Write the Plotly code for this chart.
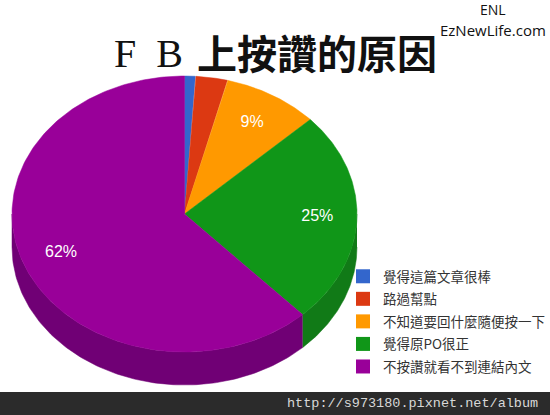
import numpy as np
import plotly.graph_objects as go

categories = ["覺得這篇文章很棒", "路過幫點", "不知道要回什麼隨便按一下", "覺得原PO很正", "不按讚就看不到連結內文"]
values = [1, 3, 9, 25, 62]
labels = ["", "", "9%", "25%", "62%"]
colors = ["#3366cc", "#dc3912", "#ff9900", "#109618", "#990099"]
side_colors = ["#264d99", "#a52b0e", "#bf7300", "#117a17", "#700075"]

CX, CY, RX, RY, DEPTH = 184.5, 214, 172.5, 138, 33
CJK = "Noto Sans CJK TC"


def pt(a, dy=0, f=1.0):
    return CX + RX * f * np.sin(a), CY - RY * f * np.cos(a) + dy


fig = go.Figure()
total = sum(values)
edges = np.cumsum([0] + values) / total * 2 * np.pi

# side walls (only the front half of the disc is visible)
for i in range(len(values)):
    a0, a1 = max(edges[i], np.pi / 2), min(edges[i + 1], 3 * np.pi / 2)
    if a1 <= a0:
        continue
    t = np.linspace(a0, a1, 120)
    x1, y1 = pt(t)
    x2, y2 = pt(t[::-1], DEPTH)
    fig.add_trace(go.Scatter(x=np.r_[x1, x2], y=np.r_[y1, y2], mode="lines", fill="toself",
                             fillcolor=side_colors[i], line=dict(width=0.5, color=side_colors[i]),
                             showlegend=False, hoverinfo="skip"))

# top faces
for i in range(len(values)):
    t = np.linspace(edges[i], edges[i + 1], 200)
    x, y = pt(t)
    fig.add_trace(go.Scatter(x=np.r_[CX, x, CX], y=np.r_[CY, y, CY], mode="lines", fill="toself",
                             fillcolor=colors[i], line=dict(width=0.5, color=colors[i]),
                             name=categories[i], showlegend=False, hoverinfo="skip"))

# percent labels
mids = (edges[:-1] + edges[1:]) / 2
lx, ly = pt(mids, 0, 0.77)
fig.add_trace(go.Scatter(x=lx, y=ly, mode="text", text=labels, showlegend=False, hoverinfo="skip",
                         textfont=dict(family="Liberation Sans, Arial", size=16, color="white")))

# legend
for i, c in enumerate(categories):
    fig.add_trace(go.Scatter(x=[None], y=[None], mode="markers", name=c, legendgroup=c,
                             marker=dict(symbol="square", size=14, color=colors[i])))

fig.add_annotation(x=148, y=53, text="F\u00a0\u00a0B", showarrow=False, xref="x", yref="y",
                   font=dict(family="Liberation Serif", size=40, color="#111111"))
fig.add_annotation(x=316.5, y=52, text="上按讚的原因", showarrow=False, xref="x", yref="y",
                   font=dict(family=CJK, size=40, color="#111111", weight="bold"))
fig.add_annotation(x=493, y=9, text="ENL", showarrow=False, font=dict(family="Open Sans", size=14, color="#111"))
fig.add_annotation(x=493, y=30, text="EzNewLife.com", showarrow=False, font=dict(family="Open Sans", size=15, color="#111"))
fig.add_annotation(x=540, y=403, text="http://s973180.pixnet.net/album", showarrow=False, xanchor="right",
                   font=dict(family="Liberation Mono", size=13.5, color="#d8d8d8"))

fig.update_layout(
    width=550, height=415, margin=dict(l=0, r=0, t=0, b=0, autoexpand=False), paper_bgcolor="white", plot_bgcolor="white",
    xaxis=dict(range=[0, 550], visible=False, fixedrange=True),
    yaxis=dict(range=[415, 0], visible=False, fixedrange=True),
    shapes=[dict(type="rect", xref="x", yref="y", x0=0, x1=550, y0=392, y1=415,
                 fillcolor="#2b2b2b", line_width=0, layer="below")],
    legend=dict(xanchor="left", yanchor="top", x=343 / 550, y=1 - 261 / 415,
                font=dict(family=CJK, size=13.5, color="#333333"), tracegroupgap=2,
                bgcolor="rgba(0,0,0,0)", itemwidth=30),
)
fig.write_html("out.html", config=dict(displayModeBar=False),
               post_script="document.body.style.margin='0';document.documentElement.style.overflow='hidden';window.dispatchEvent(new Event('resize'));")
